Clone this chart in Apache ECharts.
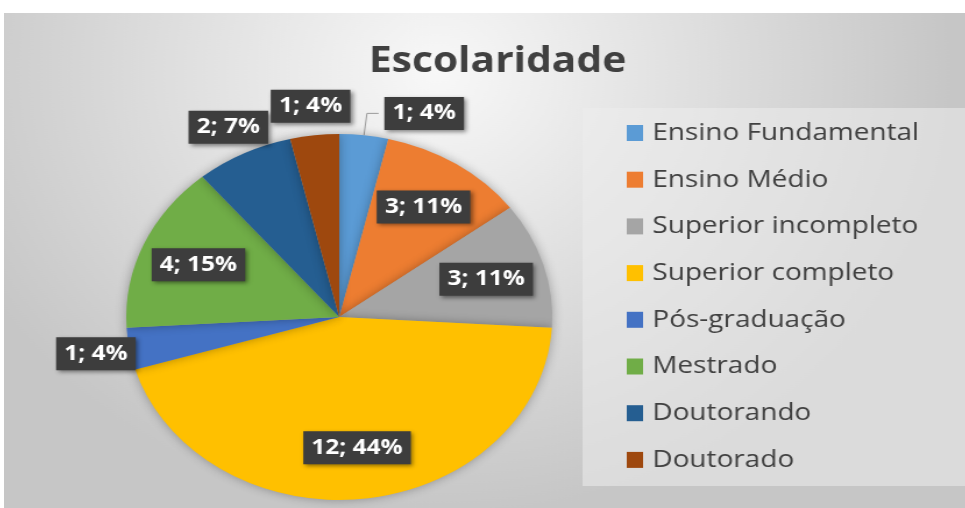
<!DOCTYPE html>
<html>
<head>
<meta charset="utf-8">
<title>Escolaridade</title>
<script src="https://cdn.jsdelivr.net/npm/echarts@6/dist/echarts.min.js"></script>
<style>
  html, body { margin: 0; padding: 0; background: #fff; overflow: hidden; }
  /* the source picture is stretched sideways, so draw narrower and scale it out */
  #main {
    position: absolute;
    left: 4px;
    top: 13px;
    width: 826px;
    height: 495px;
    transform: scaleX(1.164);
    transform-origin: 0 0;
  }
</style>
</head>
<body>
<div id="main"></div>
<script>
var categories = ['Ensino Fundamental', 'Ensino Médio', 'Superior incompleto', 'Superior completo', 'Pós-graduação', 'Mestrado', 'Doutorando', 'Doutorado'];
var counts = [1, 3, 3, 12, 1, 4, 2, 1];
var colors = ['#5B9BD5', '#ED7D31', '#A5A5A5', '#FFC000', '#4472C4', '#70AD47', '#255E91', '#9E480E'];

var font = '"Open Sans", "Noto Sans", sans-serif';
var cx = 288, cy = 304, R = 183;

var chartDom = document.getElementById('main');
var myChart = echarts.init(chartDom);
var option;

var total = counts.reduce(function (a, b) { return a + b; }, 0);

// mid angle of each slice, clockwise from 12 o'clock
var midAngle = [];
var acc = 0;
counts.forEach(function (v) {
  midAngle.push((acc + v / 2) / total * 2 * Math.PI);
  acc += v;
});

var pieData = categories.map(function (name, i) {
  var item = { name: name, value: counts[i], itemStyle: { color: colors[i] } };
  if (i === 0) {
    // this one keeps the normal outside label with a leader line
    item.label = { position: 'outside' };
    item.labelLine = { show: true };
  }
  return item;
});

option = {
  backgroundColor: {
    type: 'radial',
    x: 0.45,
    y: 0.12,
    r: 0.9,
    colorStops: [
      { offset: 0, color: '#f8f8f8' },
      { offset: 1, color: '#c6c6c6' }
    ]
  },
  title: {
    text: 'Escolaridade',
    left: 419,
    top: 27,
    textAlign: 'center',
    textStyle: {
      fontFamily: font,
      fontSize: 35,
      fontWeight: 'bold',
      color: '#404040'
    }
  },
  legend: {
    orient: 'vertical',
    left: 497,
    top: 95,
    padding: [11, 50, 12, 38],
    itemWidth: 14,
    itemHeight: 16,
    itemGap: 18.7,
    icon: 'rect',
    backgroundColor: 'rgba(236,236,236,0.55)',
    textStyle: {
      fontFamily: font,
      fontSize: 24,
      lineHeight: 28,
      padding: [0, 0, 0, 3],
      color: '#404040'
    },
    data: categories
  },
  series: [
    {
      name: 'Escolaridade',
      type: 'pie',
      center: [cx, cy],
      radius: R,
      startAngle: 90,
      percentPrecision: 0,
      avoidLabelOverlap: false,
      itemStyle: {
        shadowBlur: 10,
        shadowColor: 'rgba(0,0,0,0.3)'
      },
      label: {
        position: 'inside',
        formatter: '{c}; {d}%',
        color: '#fff',
        fontFamily: font,
        fontSize: 21,
        fontWeight: 'bold',
        backgroundColor: '#3d3d3d',
        padding: [6, 7],
        shadowBlur: 4,
        shadowOffsetX: 2,
        shadowOffsetY: 2,
        shadowColor: 'rgba(0,0,0,0.45)'
      },
      labelLine: {
        show: false,
        length: 22,
        length2: 10,
        lineStyle: { color: '#9a9a9a', width: 1 }
      },
      labelLayout: function (p) {
        var i = p.dataIndex;
        if (i === 0) return {};
        // Excel-like: big slices get the label near the rim, small ones just outside
        var k = counts[i] / total < 0.1 ? 1.16 : 0.72;
        return {
          x: cx + Math.sin(midAngle[i]) * R * k,
          y: cy - Math.cos(midAngle[i]) * R * k,
          align: 'center',
          verticalAlign: 'middle'
        };
      },
      emphasis: { scale: false },
      data: pieData
    }
  ]
};

option && myChart.setOption(option);
</script>
</body>
</html>
